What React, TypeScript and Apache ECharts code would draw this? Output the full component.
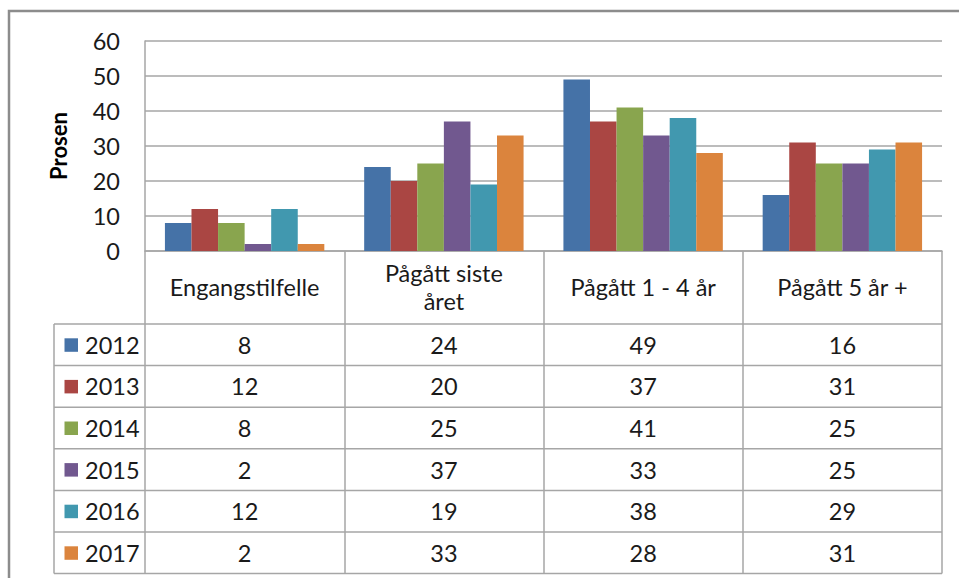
import React, { useEffect, useRef } from "react";
import * as echarts from "echarts";

const categories = ["Engangstilfelle", "Pågått siste året", "Pågått 1 - 4 år", "Pågått 5 år +"];
const years = ["2012", "2013", "2014", "2015", "2016", "2017"];
const v2012 = [8, 24, 49, 16];
const v2013 = [12, 20, 37, 31];
const v2014 = [8, 25, 41, 25];
const v2015 = [2, 37, 33, 25];
const v2016 = [12, 19, 38, 29];
const v2017 = [2, 33, 28, 31];
const seriesValues = [v2012, v2013, v2014, v2015, v2016, v2017];
const colors = ["#4572A7", "#AA4643", "#89A54E", "#71588F", "#4198AF", "#DB843D"];
const yMin = 0;
const yMax = 60;
const yStep = 10;
const axisTitle = "Prosen";

const FONT = "Lato, 'Open Sans', sans-serif";
const FS = 23.5;
const W = 959;
const H = 578;
const GRID_LEFT = 145;
const GRID_RIGHT_X = 942;
const GRID_TOP = 41;
const AXIS_Y = 251;
const HEADER_BOTTOM = 324;
const ROW_H = 41.6;
const LEGEND_LEFT = 54;
const LINE_COLOR = "#a6a6a6";
const TEXT_COLOR = "#1a1a1a";

export default function App() {
  const ref = useRef<HTMLDivElement>(null);
  useEffect(() => {
    if (!ref.current) return;
    const chart = echarts.init(ref.current, null, { renderer: "svg" });
    const tableBottom = HEADER_BOTTOM + ROW_H * years.length;
    chart.setOption({
      animation: false,
      color: colors,
      textStyle: { fontFamily: FONT },
      grid: {
        left: GRID_LEFT,
        right: W - GRID_RIGHT_X,
        top: GRID_TOP,
        bottom: H - AXIS_Y,
        containLabel: false,
      },
      xAxis: {
        type: "category",
        data: categories,
        axisLine: { show: true, lineStyle: { color: LINE_COLOR, width: 1.5 } },
        axisTick: {
          show: true,
          alignWithLabel: false,
          length: tableBottom - AXIS_Y,
          lineStyle: { color: LINE_COLOR, width: 1.5 },
        },
        axisLabel: {
          margin: 36,
          verticalAlign: "middle",
          fontSize: FS,
          lineHeight: 28,
          color: TEXT_COLOR,
          fontFamily: FONT,
          formatter: (v: string) => v.replace("siste ", "siste\n"),
        },
      },
      yAxis: {
        type: "value",
        min: yMin,
        max: yMax,
        interval: yStep,
        name: axisTitle,
        nameLocation: "middle",
        nameGap: 76,
        nameRotate: 90,
        nameTextStyle: { fontSize: 22, fontWeight: "bold", color: "#000", fontFamily: FONT },
        axisLine: { show: true, lineStyle: { color: LINE_COLOR, width: 1.5 } },
        axisTick: { show: false },
        axisLabel: { fontSize: FS, color: TEXT_COLOR, margin: 25, fontFamily: FONT },
        splitLine: { show: true, lineStyle: { color: LINE_COLOR, width: 1.5 } },
      },
      series: years.map((y, i) => ({
        name: y,
        type: "bar",
        data: seriesValues[i],
        barGap: "0%",
        barCategoryGap: "20%",
        itemStyle: { color: colors[i] },
      })),
    });

    const elements: any[] = [];
    elements.push({
      type: "rect",
      shape: { x: 9, y: 11, width: 1200, height: 1200 },
      style: { fill: "none", stroke: "#8c8c8c", lineWidth: 2.5 },
      silent: true,
    });
    for (let r = 0; r <= years.length; r++) {
      const yy = HEADER_BOTTOM + r * ROW_H;
      elements.push({
        type: "line",
        shape: { x1: LEGEND_LEFT, y1: yy, x2: GRID_RIGHT_X, y2: yy },
        style: { stroke: LINE_COLOR, lineWidth: 1.5 },
        silent: true,
      });
    }
    elements.push({
      type: "line",
      shape: { x1: LEGEND_LEFT, y1: HEADER_BOTTOM, x2: LEGEND_LEFT, y2: tableBottom },
      style: { stroke: LINE_COLOR, lineWidth: 1.5 },
      silent: true,
    });
    years.forEach((y, r) => {
      const cy = HEADER_BOTTOM + r * ROW_H + ROW_H / 2;
      elements.push({
        type: "rect",
        shape: { x: 64.5, y: cy - 6.5, width: 13.5, height: 13.5 },
        style: { fill: colors[r] },
        silent: true,
      });
      elements.push({
        type: "text",
        x: 85,
        y: cy,
        style: {
          text: y,
          fontSize: FS,
          fontFamily: FONT,
          fill: TEXT_COLOR,
          textAlign: "left",
          textVerticalAlign: "middle",
        },
        silent: true,
      });
      categories.forEach((c, ci) => {
        const px = chart.convertToPixel({ xAxisIndex: 0 }, c) as number;
        elements.push({
          type: "text",
          x: px,
          y: cy,
          style: {
            text: String(seriesValues[r][ci]),
            fontSize: FS,
            fontFamily: FONT,
            fill: TEXT_COLOR,
            textAlign: "center",
            textVerticalAlign: "middle",
          },
          silent: true,
        });
      });
    });
    chart.setOption({ graphic: { elements } });
    return () => chart.dispose();
  }, []);
  return (
    <div
      ref={ref}
      style={{ position: "fixed", left: 0, top: 0, width: W, height: H, background: "#fff" }}
    />
  );
}
